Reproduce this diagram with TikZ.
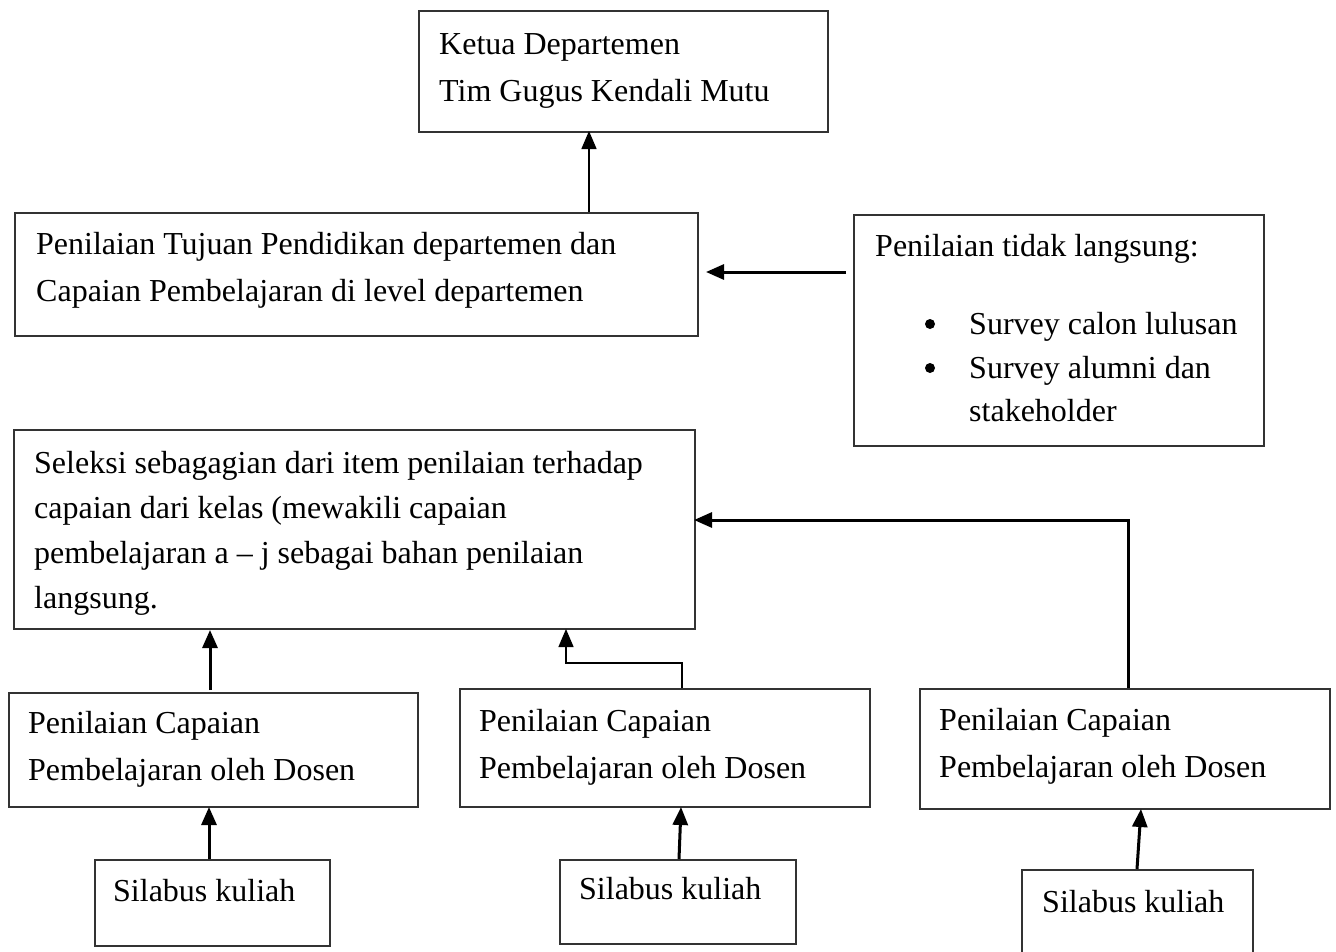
\documentclass[tikz,border=0pt]{standalone}
\usepackage{fontspec}
\setmainfont{Liberation Serif}
\usetikzlibrary{arrows.meta}
\tikzset{
  box/.style={draw=black!80, line width=1.5pt, rectangle, inner sep=0pt, anchor=north west},
  txt/.style={anchor=base west, inner sep=0pt, font=\fontsize{32}{46}\selectfont},
  arrthick/.style={line width=3pt, -{Triangle[length=18pt,width=15pt]}},
  arrthin/.style={line width=1.4pt, -{Triangle[length=18pt,width=15pt]}},
  dot/.style={circle, fill=black, inner sep=0pt, minimum size=10pt}
}
\begin{document}
\begin{tikzpicture}[x=1pt,y=-1pt]
\useasboundingbox[fill=white] (0,0) rectangle (1336,951);
% boxes
\node[box, minimum width=409pt, minimum height=121pt] (ketua) at (418,10) {};
\node[box, minimum width=683pt, minimum height=123pt] (tujuan) at (14,212) {};
\node[box, minimum width=410pt, minimum height=231pt] (tidak) at (853,214) {};
\node[box, minimum width=681pt, minimum height=199pt] (seleksi) at (13,429) {};
\node[box, minimum width=409pt, minimum height=114pt] (pen1) at (8,692) {};
\node[box, minimum width=410pt, minimum height=118pt] (pen2) at (459,688) {};
\node[box, minimum width=410pt, minimum height=120pt] (pen3) at (919,688) {};
\node[box, minimum width=235pt, minimum height=86pt] (sil1) at (94,859) {};
\node[box, minimum width=236pt, minimum height=84pt] (sil2) at (559,859) {};
\node[box, minimum width=231pt, minimum height=110pt] (sil3) at (1021,869) {};
% texts
\node[txt] (t1) at (439,54) {Ketua Departemen};
\node[txt] (t2) at (439,101) {Tim Gugus Kendali Mutu};
\node[txt] (t3) at (36,254) {Penilaian Tujuan Pendidikan departemen dan};
\node[txt] (t4) at (36,301) {Capaian Pembelajaran di level departemen};
\node[txt] (t5) at (875,256) {Penilaian tidak langsung:};
\node[dot] (d1) at (930,324) {};
\node[txt] (t6) at (969,334) {Survey calon lulusan};
\node[dot] (d2) at (930,368) {};
\node[txt] (t7) at (969,378) {Survey alumni dan};
\node[txt] (t8) at (969,421) {stakeholder};
\node[txt] (t9) at (34,473) {Seleksi sebagagian dari item penilaian terhadap};
\node[txt] (t10) at (34,518) {capaian dari kelas (mewakili capaian};
\node[txt] (t11) at (34,563) {pembelajaran a -- j sebagai bahan penilaian};
\node[txt] (t12) at (34,608) {langsung.};
\node[txt] (t13) at (28,733) {Penilaian Capaian};
\node[txt] (t14) at (28,780) {Pembelajaran oleh Dosen};
\node[txt] (t15) at (479,731) {Penilaian Capaian};
\node[txt] (t16) at (479,778) {Pembelajaran oleh Dosen};
\node[txt] (t17) at (939,730) {Penilaian Capaian};
\node[txt] (t18) at (939,777) {Pembelajaran oleh Dosen};
\node[txt] (t19) at (113,901) {Silabus kuliah};
\node[txt] (t20) at (579,899) {Silabus kuliah};
\node[txt] (t21) at (1042,912) {Silabus kuliah};
% connector coordinates
\coordinate (c1s) at (589,212); \coordinate (c1e) at (589,131);
\coordinate (c2s) at (846,272); \coordinate (c2e) at (706,272);
\coordinate (c3s) at (1128,688); \coordinate (c3m) at (1128,520); \coordinate (c3e) at (694,520);
\coordinate (c4s) at (682,688); \coordinate (c4a) at (682,663); \coordinate (c4b) at (566,663); \coordinate (c4e) at (566,629);
\coordinate (c5s) at (210,690); \coordinate (c5e) at (210,630);
\coordinate (c6s) at (209,859); \coordinate (c6e) at (209,807);
\coordinate (c7s) at (679,859); \coordinate (c7e) at (681,807);
\coordinate (c8s) at (1137,869); \coordinate (c8e) at (1141,809);
% connectors
\draw[arrthin] (c1s) -- (c1e);
\draw[arrthick] (c2s) -- (c2e);
\draw[arrthick] (c3s) -- (c3m) -- (c3e);
\draw[arrthin] (c4s) -- (c4a) -- (c4b) -- (c4e);
\draw[arrthick] (c5s) -- (c5e);
\draw[arrthick] (c6s) -- (c6e);
\draw[arrthick] (c7s) -- (c7e);
\draw[arrthick] (c8s) -- (c8e);
\end{tikzpicture}
\end{document}
